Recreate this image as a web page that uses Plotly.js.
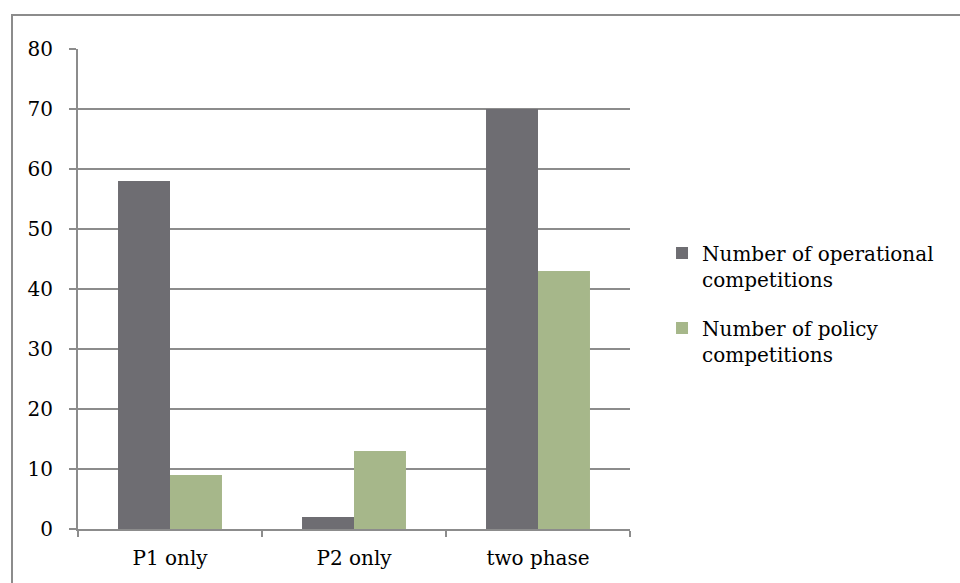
<!DOCTYPE html>
<html>
<head>
<meta charset="utf-8">
<script src="https://cdn.plot.ly/plotly-3.0.1.min.js"></script>
<style>
  html, body { margin: 0; padding: 0; background: #fff; }
  #chart { width: 960px; height: 583px; }
</style>
</head>
<body>
<div id="chart"></div>
<script>
// Competition counts by phase structure
const categories = ["P1 only", "P2 only", "two phase"];
const operational = [58, 2, 70];
const policy = [9, 13, 43];
const seriesNames = ["Number of operational<br>competitions", "Number of policy<br>competitions"];
const yTicks = [0, 10, 20, 30, 40, 50, 60, 70, 80];

const serif = "DejaVu Serif";
const grey = "#8c8c8c";

const traces = [
  { type: "bar", x: categories, y: operational, name: seriesNames[0], legendgroup: "op",
    marker: { color: "#6e6d72", line: { width: 0 } } },
  { type: "bar", x: categories, y: policy, name: seriesNames[1], legendgroup: "pol",
    marker: { color: "#a6b78a", line: { width: 0 } } }
];

const layout = {
  width: 960, height: 583,
  margin: { l: 78, r: 330, t: 49, b: 54 },
  paper_bgcolor: "#fff", plot_bgcolor: "#fff",
  font: { family: serif, size: 20, color: "#000" },
  barmode: "group", bargap: 0.435, bargroupgap: 0,
  showlegend: true,
  xaxis: {
    type: "category", tickson: "boundaries",
    ticks: "outside", ticklen: 6, tickwidth: 2, tickcolor: grey,
    showline: true, linecolor: grey, linewidth: 2,
    showgrid: false, zeroline: false,
    tickfont: { family: serif, size: 20 },
    ticklabelstandoff: 10
  },
  yaxis: {
    range: [0, 80], tickvals: yTicks, ticktext: yTicks.map(String),
    ticks: "outside", ticklen: 7, tickwidth: 2, tickcolor: grey,
    showline: true, linecolor: grey, linewidth: 2,
    showgrid: true, gridcolor: grey, gridwidth: 2,
    zeroline: false,
    tickfont: { family: serif, size: 20 },
    ticklabelstandoff: 12
  },
  legend: {
    x: 1.058, xanchor: "left", y: 0.47, yanchor: "middle",
    font: { family: serif, size: 20 },
    valign: "top", tracegroupgap: 20,
    itemwidth: 30, bgcolor: "rgba(0,0,0,0)"
  },
  shapes: [{
    type: "rect", xref: "paper", yref: "paper",
    x0: (12 - 78) / 552, x1: 1.62, y0: -0.2, y1: 1 + (49 - 15) / 480,
    line: { color: "#8c8c8c", width: 2 }, fillcolor: "rgba(0,0,0,0)", layer: "below"
  }]
};

Plotly.newPlot("chart", traces, layout, { displayModeBar: false, staticPlot: true });
</script>
</body>
</html>
